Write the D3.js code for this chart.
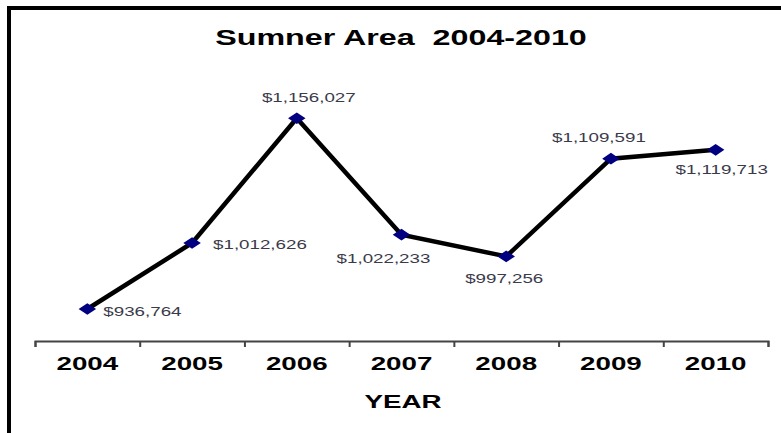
<!DOCTYPE html>
<html>
<head>
<meta charset="utf-8">
<script src="https://cdn.jsdelivr.net/npm/d3@7"></script>
<style>
  body { margin: 0; background: #fff; }
  text { font-family: "Liberation Sans", Arial, sans-serif; }
</style>
</head>
<body>
<div id="chart"></div>
<script>
// Data
var years = ["2004", "2005", "2006", "2007", "2008", "2009", "2010"];
var values = [936764, 1012626, 1156027, 1022233, 997256, 1109591, 1119713];
var yDomain = [900000, 1200000];

var width = 781;
var height = 433;
var stretch = 1.5; // the picture is wider than its fonts

// label placement next to each point: [dx, dy, anchor] from the marker
var labelOffsets = [[16, 7, "start"], [21, 6, "start"], [12, -16, "middle"],
  [-18, 28, "middle"], [-2, 27, "middle"], [-12, -17, "middle"], [6, 24, "middle"]];

var svg = d3.select("#chart").append("svg")
  .attr("width", width)
  .attr("height", height);

// frame (left and top only)
svg.append("line")
  .attr("x1", 9).attr("x2", 9).attr("y1", 6).attr("y2", height)
  .attr("stroke", "#000").attr("stroke-width", 4);
svg.append("line")
  .attr("x1", 7).attr("x2", width).attr("y1", 8).attr("y2", 8)
  .attr("stroke", "#000").attr("stroke-width", 4);

/* Scales */
var xScale = d3.scaleBand()
  .domain(years)
  .range([35, 768]);

var xEdge = d3.scaleLinear()
  .domain([0, years.length])
  .range([35, 768]);

var yScale = d3.scaleLinear()
  .domain(yDomain)
  .range([341, 80]);

function cx(i) { return xScale(years[i]) + xScale.bandwidth() / 2; }

// stretched text helper
function stretchedText(x, y, str, size, anchor, weight, fill) {
  return svg.append("text")
    .attr("transform", `translate(${x},${y}) scale(${stretch},1)`)
    .attr("text-anchor", anchor)
    .attr("font-size", size + "px")
    .attr("font-weight", weight)
    .attr("fill", fill)
    .text(str);
}

/* Axis */
var xAxis = d3.axisBottom(xEdge)
  .ticks(years.length)
  .tickSize(6)
  .tickSizeOuter(6)
  .tickFormat("");

var axisGroup = svg.append("g")
  .attr("transform", `translate(0, 341)`)
  .call(xAxis);
axisGroup.selectAll("path, line")
  .attr("stroke", "#444")
  .attr("stroke-width", 2);

years.forEach(function (yr) {
  stretchedText(xScale(yr) + xScale.bandwidth() / 2, 370, yr, 18.5, "middle", "bold", "#000");
});

/* Line */
var line = d3.line()
  .x((d, i) => cx(i))
  .y(d => yScale(d));

svg.append("path")
  .datum(values)
  .attr("d", line)
  .attr("fill", "none")
  .attr("stroke", "#000")
  .attr("stroke-width", 4.5)
  .attr("stroke-linejoin", "miter");

/* Markers */
var diamond = d3.symbol().type(d3.symbolSquare).size(68);
svg.selectAll(".marker")
  .data(values)
  .enter().append("path")
  .attr("class", "marker")
  .attr("d", diamond)
  .attr("transform", (d, i) => `translate(${cx(i)},${yScale(d)}) scale(${stretch},1) rotate(45)`)
  .attr("fill", "#000080");

/* Labels */
var fmt = d3.format(",");
values.forEach(function (v, i) {
  var off = labelOffsets[i];
  stretchedText(cx(i) + off[0], yScale(v) + off[1], "$" + fmt(v), 12.5, off[2], "normal", "#3a3a4a");
});

/* Title and axis name */
stretchedText(401, 45, "Sumner Area\u00a0\u00a02004-2010", 21.5, "middle", "bold", "#000");
stretchedText(403, 408, "YEAR", 18.5, "middle", "bold", "#000");
</script>
</body>
</html>
